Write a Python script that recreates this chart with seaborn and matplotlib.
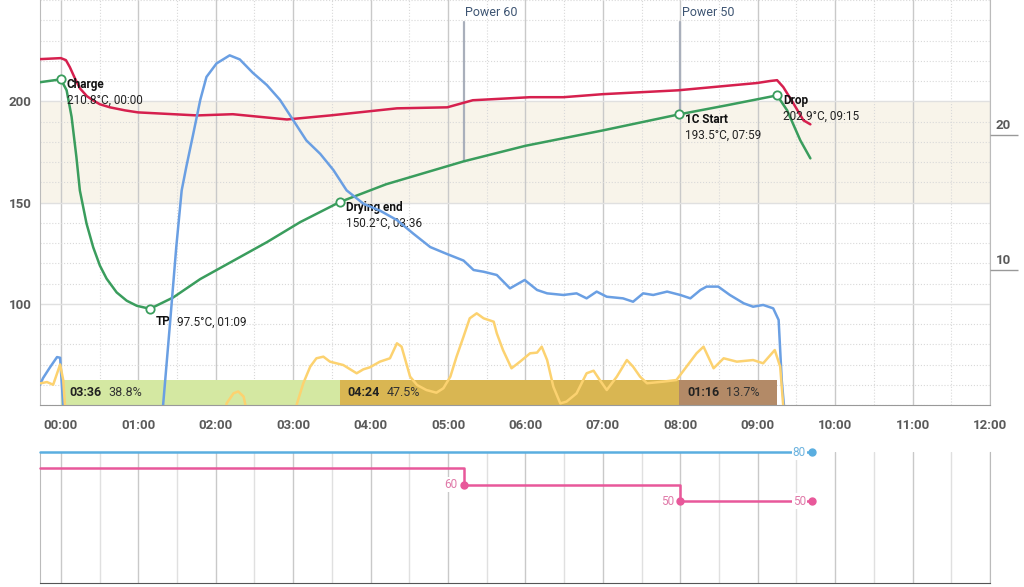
import matplotlib
matplotlib.use("Agg")
import matplotlib.pyplot as plt
from matplotlib.ticker import MultipleLocator, FuncFormatter
import seaborn as sns

sns.set_style("white")
plt.rcParams["font.family"] = ["Roboto", "DejaVu Sans"]

# --- data (time in minutes from charge) ---
bean_t = [-0.27, -0.1, 0.0, 0.074, 0.138, 0.2, 0.245, 0.331, 0.417, 0.504, 0.59, 0.72, 0.85,
          0.98, 1.15, 1.45, 1.8, 2.23, 2.66, 3.09, 3.6, 4.2, 5.2, 6.0, 7.0, 7.98, 8.6, 9.25,
          9.38, 9.55, 9.68]
bean_temp = [209.4, 210.3, 210.8, 205.4, 192.3, 172.5, 155.9, 139.6, 127.9, 118.8, 112.4, 105.6,
             101.5, 99.0, 97.5, 103.1, 112.2, 121.3, 130.4, 140.3, 150.2, 159.0, 170.3, 178.0,
             185.6, 193.5, 198.0, 202.9, 195.5, 180.7, 171.8]

env_t = [-0.27, 0.0, 0.065, 0.116, 0.18, 0.245, 0.336, 0.413, 0.504, 0.633, 0.827, 0.995, 1.76,
         2.22, 2.92, 3.48, 4.34, 4.99, 5.32, 6.06, 6.49, 7.0, 7.97, 8.99, 9.16, 9.25, 9.33, 9.46,
         9.59, 9.68]
env_temp = [220.8, 221.3, 220.3, 216.8, 211.4, 206.4, 202.5, 200.5, 198.5, 197.0, 195.5, 194.5,
            193.0, 193.6, 191.0, 193.0, 196.5, 197.0, 200.5, 202.0, 202.0, 203.5, 205.4, 209.0,
            210.0, 210.4, 207.0, 199.0, 190.6, 188.6]

ror_t = [-0.27, -0.23, -0.14, -0.05, -0.01, 0.03, 0.1, 0.3, 0.7, 1.0, 1.2, 1.32, 1.41, 1.49,
         1.56, 1.62, 1.71, 1.8, 1.88, 2.01, 2.18, 2.31, 2.48, 2.66, 2.83, 3.0, 3.17, 3.35, 3.52,
         3.69, 3.91, 4.12, 4.34, 4.55, 4.77, 4.98, 5.2, 5.33, 5.46, 5.63, 5.8, 5.99, 6.15, 6.28,
         6.49, 6.66, 6.79, 6.92, 7.05, 7.26, 7.39, 7.52, 7.65, 7.83, 8.0, 8.13, 8.26, 8.34, 8.49,
         8.64, 8.82, 8.94, 9.07, 9.2, 9.27, 9.31, 9.34, 9.37]
ror = [1.5, 2.0, 2.8, 3.55, 3.5, -0.1, -8, -30, -25, -12, -4, 0.0, 6.1, 11.7, 15.9, 17.65, 20.1,
       22.6, 24.3, 25.3, 25.9, 25.6, 24.6, 23.7, 22.6, 21.1, 19.6, 18.6, 17.4, 15.9, 14.9, 14.4,
       13.7, 12.7, 11.7, 11.2, 10.7, 10.0, 9.87, 9.63, 8.64, 9.26, 8.52, 8.27, 8.15, 8.27, 7.9,
       8.4, 8.02, 7.9, 7.65, 8.27, 8.15, 8.4, 8.15, 7.9, 8.52, 8.77, 8.77, 8.15, 7.53, 7.28,
       7.41, 7.16, 6.3, 1.85, -0.12, -3]

env_ror_t = [-0.27, -0.18, -0.1, -0.01, 0.03, 0.05, 0.1, 2.1, 2.14, 2.23, 2.29, 2.36, 2.42, 3.0,
             3.05, 3.13, 3.22, 3.30, 3.39, 3.475, 3.647, 3.82, 3.906, 3.99, 4.12, 4.25, 4.34, 4.40,
             4.51, 4.6, 4.72, 4.85, 4.94, 5.03, 5.11, 5.2, 5.28, 5.37, 5.46, 5.59, 5.63, 5.71,
             5.82, 5.93, 6.06, 6.15, 6.21, 6.28, 6.36, 6.45, 6.53, 6.66, 6.79, 6.88, 6.96, 7.05,
             7.18, 7.31, 7.39, 7.48, 7.57, 7.78, 7.95, 8.08, 8.21, 8.3, 8.43, 8.56, 8.73, 8.94,
             9.07, 9.22, 9.29, 9.33, 9.36]
env_ror = [1.6, 1.7, 1.5, 3.0, 1.85, 0.15, -2, -2, 0.12, 0.87, 1.0, 0.62, -1, -1, 0.12, 1.6, 2.84,
           3.46, 3.58, 3.21, 2.96, 2.35, 2.64, 2.79, 3.21, 3.46, 4.57, 4.32, 2.1, 1.48, 1.11,
           0.91, 1.24, 2.1, 3.58, 5.06, 6.42, 6.79, 6.42, 6.17, 5.31, 4.07, 2.72, 3.21, 3.83,
           3.88, 4.32, 3.33, 1.36, 0.12, 0.25, 0.86, 2.35, 2.54, 1.85, 1.11, 2.1, 3.33, 2.84,
           2.1, 1.61, 1.73, 1.85, 2.84, 3.83, 4.32, 2.72, 3.46, 3.21, 3.33, 3.09, 4.07, 2.84,
           -0.12, -3]

event_names = ["Charge", "TP", "Drying end", "1C Start", "Drop"]
event_t = [0.0, 1.15, 3.6, 7.983, 9.25]
event_temp = [210.8, 97.5, 150.2, 193.5, 202.9]
event_info = ["210.8°C, 00:00", "97.5°C, 01:09", "150.2°C, 03:36", "193.5°C, 07:59", "202.9°C, 09:15"]

phase_start = [0.0, 3.6, 7.983]
phase_end = [3.6, 7.983, 9.25]
phase_time = ["03:36", "04:24", "01:16"]
phase_pct = ["38.8%", "47.5%", "13.7%"]
phase_colors = ["#d4e8a2", "#d9b652", "#b38a67"]

power_t = [-0.27, 5.2, 8.0, 9.7]
power = [70, 60, 50, 50]
fan_t = [-0.27, 9.7]
fan = [80, 80]
power_marks = ["Power 60", "Power 50"]
power_mark_t = [5.2, 8.0]
power_mark_temp = [170.3, 193.5]

# --- colours ---
c_bean = "#3a9d5d"
c_env = "#d6204e"
c_ror = "#6a9fe3"
c_env_ror = "#fcd270"
c_fan = "#5aaee0"
c_power = "#e8589a"
c_tick = "#5a5a5a"

fig = plt.figure(figsize=(10.24, 5.87), dpi=100)
ax = fig.add_axes([40 / 1024, 182 / 587, 950 / 1024, 405 / 587])
ax2 = ax.twinx()
axb = fig.add_axes([40 / 1024, 4 / 587, 950 / 1024, 131 / 587])

xmin, xmax = -0.27, 12.0

# --- main panel ---
ax.set_xlim(xmin, xmax)
ax.set_ylim(50, 250)
ax.axhspan(150, 200, color="#f8f4ea", zorder=0.2, lw=0)

ax.xaxis.set_major_locator(MultipleLocator(1))
ax.xaxis.set_minor_locator(MultipleLocator(0.5))
ax.set_yticks([100, 150, 200])
ax.yaxis.set_minor_locator(MultipleLocator(10))
ax.set_axisbelow(True)
ax.grid(which="major", axis="x", color="#c9c9c9", lw=1)
ax.grid(which="minor", axis="x", color="#d9d9d9", lw=0.8, ls=":")
ax.grid(which="major", axis="y", color="#e0e0e0", lw=1)
ax.grid(which="minor", axis="y", color="#d9d9d9", lw=0.8, ls=":")
ax.xaxis.set_major_formatter(FuncFormatter(lambda v, p: f"{int(round(v)):02d}:00"))
ax.tick_params(axis="x", which="major", length=0, pad=10, labelsize=9.5, labelcolor=c_tick)
ax.tick_params(axis="x", which="minor", length=4, color="#999999", direction="out")
ax.tick_params(axis="y", which="both", length=0, pad=6, labelsize=9.5, labelcolor=c_tick)
for lab in ax.get_xticklabels() + ax.get_yticklabels():
    lab.set_fontweight("bold")
ax.spines["top"].set_visible(False)
ax.spines["left"].set_color("#bbbbbb")
ax.spines["right"].set_color("#bbbbbb")
ax.spines["bottom"].set_color("#999999")

# phase bars
for s, e, col, tm, pc in zip(phase_start, phase_end, phase_colors, phase_time, phase_pct):
    ax.barh(56.2, e - s, left=s, height=12.4, color=col, zorder=2, lw=0)
    ax.annotate(tm, (s, 56.2), xytext=(8, 0), textcoords="offset pixels", ha="left", va="center",
                fontsize=9, fontweight="bold", color="#222222", zorder=6)
    ax.annotate(pc, (s, 56.2), xytext=(47, 0), textcoords="offset pixels", ha="left", va="center",
                fontsize=9, color="#333333", zorder=6)

sns.lineplot(x=env_t, y=env_temp, ax=ax, color=c_env, lw=1.8, estimator=None, zorder=3)
sns.lineplot(x=bean_t, y=bean_temp, ax=ax, color=c_bean, lw=1.8, estimator=None, zorder=3)

# power change markers
for name, t, tmp in zip(power_marks, power_mark_t, power_mark_temp):
    ax.plot([t, t], [tmp, 239], color="#a9afbb", lw=1.6, zorder=2.5)
    ax.text(t + 0.02, 244, name, fontsize=9, color="#3e5573", ha="left", va="center")

# events
ax.plot(event_t, event_temp, ls="none", marker="o", ms=6, mfc="white", mec=c_bean, mew=1.3,
        zorder=4)
for name, t, tmp, info in zip(event_names, event_t, event_temp, event_info):
    if name == "TP":
        ax.annotate(name, (t, tmp), xytext=(6, -13), textcoords="offset pixels", ha="left",
                    va="center", fontsize=8.5, fontweight="bold", color="#111111", zorder=6)
        ax.annotate(info, (t, tmp), xytext=(27, -13), textcoords="offset pixels", ha="left",
                    va="center", fontsize=8.5, color="#222222", zorder=6)
    else:
        ax.annotate(name, (t, tmp), xytext=(6, -5), textcoords="offset pixels", ha="left",
                    va="center", fontsize=8.5, fontweight="bold", color="#111111", zorder=6)
        ax.annotate(info, (t, tmp), xytext=(6, -21), textcoords="offset pixels", ha="left",
                    va="center", fontsize=8.5, color="#222222", zorder=6)

# right axis (rate of rise)
ax2.set_ylim(0, 30)
sns.lineplot(x=ror_t, y=ror, ax=ax2, color=c_ror, lw=1.8, estimator=None)
sns.lineplot(x=env_ror_t, y=env_ror, ax=ax2, color=c_env_ror, lw=1.8, estimator=None)
ax2.set_xlim(xmin, xmax)
ax2.set_yticks([10, 20])
ax2.tick_params(axis="y", length=20, width=1, color="#999999", labelright=False)
for v in [10, 20]:
    ax2.text(1.0137, v + 0.25, str(v), transform=ax2.get_yaxis_transform(), ha="center",
             va="bottom", fontsize=9.5, fontweight="bold", color=c_tick)
for s in ax2.spines.values():
    s.set_visible(False)
ax2.set_ylabel("")

# --- bottom panel (power / fan) ---
axb.set_xlim(xmin, xmax)
axb.set_ylim(0, 80)
axb.xaxis.set_major_locator(MultipleLocator(1))
axb.xaxis.set_minor_locator(MultipleLocator(0.5))
axb.set_axisbelow(True)
axb.grid(which="major", axis="x", color="#c9c9c9", lw=1)
axb.grid(which="minor", axis="x", color="#e0e0e0", lw=1)
axb.tick_params(axis="x", which="major", length=0, labelbottom=False)
axb.tick_params(axis="x", which="minor", length=4, direction="in", color="#777777")
axb.set_yticks([])
axb.spines["top"].set_visible(False)
axb.spines["left"].set_color("#bbbbbb")
axb.spines["right"].set_color("#bbbbbb")
axb.spines["bottom"].set_color("#555555")

axb.plot(fan_t, fan, color=c_fan, lw=1.8, clip_on=False, zorder=3)
axb.plot(power_t, power, color=c_power, lw=1.8, drawstyle="steps-post", clip_on=False, zorder=3)
axb.plot(fan_t[-1:], fan[-1:], ls="none", marker="o", ms=5, color=c_fan, clip_on=False, zorder=5)
axb.plot(power_t[1:], power[1:], ls="none", marker="o", ms=5, color=c_power, clip_on=False,
         zorder=5)
box = dict(boxstyle="square,pad=0.1", fc="white", ec="none")
axb.annotate(str(fan[-1]), (fan_t[-1], fan[-1]), xytext=(-6, 0), textcoords="offset pixels",
             ha="right", va="center", fontsize=8.5, color="#6cb3df", bbox=box, zorder=4)
for t, v in zip(power_t[1:], power[1:]):
    axb.annotate(str(v), (t, v), xytext=(-6, 0), textcoords="offset pixels", ha="right",
                 va="center", fontsize=8.5, color="#e07aa9", bbox=box, zorder=4)

fig.savefig("out.png", dpi=100)
